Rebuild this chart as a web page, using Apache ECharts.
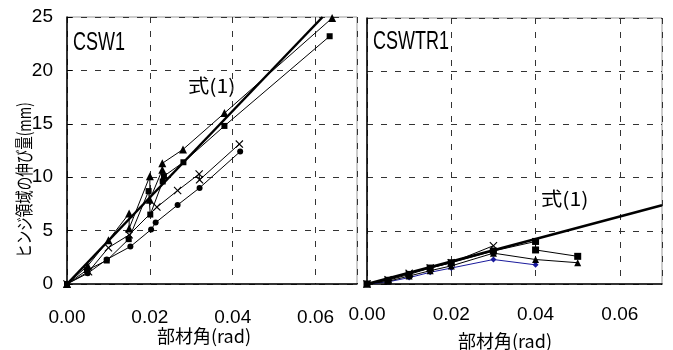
<!DOCTYPE html>
<html>
<head>
<meta charset="utf-8">
<script src="https://cdn.jsdelivr.net/npm/echarts@6/dist/echarts.min.js"></script>
<style>
  html, body { margin: 0; padding: 0; background: #fff; }
  #chart { width: 673px; height: 350px; }
</style>
</head>
<body>
<div id="chart"></div>
<script>
// CSW1 (left panel)
var cswTriX = [0, 0.005, 0.01, 0.015, 0.015, 0.02, 0.02, 0.023, 0.023, 0.028, 0.038, 0.064]
var cswTriY = [0, 1.7, 4.1, 6.6, 5.2, 10.1, 7.9, 10.7, 11.3, 12.6, 16.0, 24.9]
var cswSqX = [0, 0.0048, 0.0096, 0.0149, 0.0197, 0.0201, 0.0231, 0.0234, 0.0281, 0.038, 0.0634]
var cswSqY = [0, 1.3, 2.2, 4.2, 8.7, 6.5, 9.6, 10.1, 11.4, 14.8, 23.2]
var cswCrossX = [0, 0.0052, 0.01, 0.015, 0.0217, 0.0267, 0.0319, 0.032, 0.0416]
var cswCrossY = [0, 1.15, 3.4, 4.6, 7.2, 8.75, 10.3, 9.75, 13.1]
var cswDotX = [0, 0.005, 0.0096, 0.0153, 0.0203, 0.0214, 0.0267, 0.032, 0.0418]
var cswDotY = [0, 1.0, 2.3, 3.5, 5.1, 5.75, 7.4, 9.0, 12.4]
var cswEqX = [0, 0.0617]
var cswEqY = [0, 25]

// CSWTR1 (right panel)
var trSqX = [0, 0.005, 0.01, 0.015, 0.02, 0.03, 0.04, 0.04, 0.05]
var trSqY = [0, 0.35, 0.9, 1.5, 2.0, 3.1, 4.0, 3.2, 2.6]
var trTriX = [0, 0.005, 0.01, 0.015, 0.02, 0.03, 0.04, 0.05]
var trTriY = [0, 0.25, 0.75, 1.25, 1.7, 2.9, 2.3, 2.0]
var trCrossX = [0, 0.005, 0.01, 0.015, 0.02, 0.03]
var trCrossY = [0, 0.4, 1.0, 1.5, 2.0, 3.6]
var trBlueX = [0, 0.005, 0.01, 0.015, 0.02, 0.03, 0.04]
var trBlueY = [0, 0.2, 0.6, 1.1, 1.5, 2.3, 1.8]
var trEqX = [0, 0.07]
var trEqY = [0, 7.4]

var xTicks = [0, 0.02, 0.04, 0.06]

var numFont = '"Liberation Sans", Arial, sans-serif'
var jpFont = '"Noto Sans CJK JP", sans-serif'
var crossSymbol = 'path://M0,1 L1,0 L5,4 L9,0 L10,1 L6,5 L10,9 L9,10 L5,6 L1,10 L0,9 L4,5 Z'

function pts(xs, ys) {
    return xs.map(function (x, i) { return [x, ys[i]] })
}

function markerSeries(idx, xs, ys, symbol, size, color) {
    return {
        type: 'line',
        xAxisIndex: idx,
        yAxisIndex: idx,
        data: pts(xs, ys),
        symbol: symbol,
        symbolSize: size,
        showAllSymbol: true,
        lineStyle: { color: color, width: 1 },
        itemStyle: { color: color },
        animation: false,
        z: 3
    }
}

function eqSeries(idx, xs, ys) {
    return {
        type: 'line',
        xAxisIndex: idx,
        yAxisIndex: idx,
        data: pts(xs, ys),
        showSymbol: false,
        lineStyle: { color: '#000', width: 2.5 },
        animation: false,
        z: 4
    }
}

function xAxisCfg(idx, margin) {
    return {
        type: 'value',
        gridIndex: idx,
        min: 0,
        max: 0.07,
        interval: 0.02,
        axisLine: { show: true, onZero: false, lineStyle: { color: '#000', width: 1.5 } },
        axisTick: { show: false },
        axisLabel: {
            margin: margin,
            color: '#000',
            fontFamily: numFont,
            fontSize: 19,
            showMaxLabel: false,
            formatter: function (v) {
                return xTicks.some(function (t) { return Math.abs(t - v) < 1e-9 }) ? v.toFixed(2) : ''
            }
        },
        splitLine: { show: true, lineStyle: { color: '#333', width: 1, type: [6, 8] } }
    }
}

function yAxisCfg(idx, labels) {
    return {
        type: 'value',
        gridIndex: idx,
        min: 0,
        max: 25,
        interval: 5,
        axisLine: { show: true, onZero: false, lineStyle: { color: '#000', width: 1.5 } },
        axisTick: { show: labels, inside: true, length: 5, lineStyle: { color: '#000' } },
        axisLabel: {
            show: labels,
            margin: 14,
            color: '#000',
            fontFamily: numFont,
            fontSize: 19,
            padding: [5, 0, 0, 0]
        },
        splitLine: { show: true, lineStyle: { color: '#333', width: 1, type: [6, 8] } }
    }
}

var chart = echarts.init(document.getElementById('chart'), null, { renderer: 'canvas' })
chart.setOption({
    backgroundColor: '#fff',
    animation: false,
    grid: [
        { left: 67, top: 17, width: 290, height: 267, show: true, borderColor: '#999', borderWidth: 1 },
        { left: 367, top: 18, width: 295, height: 266, show: true, borderColor: '#999', borderWidth: 1 }
    ],
    xAxis: [xAxisCfg(0, 24), xAxisCfg(1, 21)],
    yAxis: [yAxisCfg(0, true), yAxisCfg(1, false)],
    series: [
        markerSeries(0, cswDotX, cswDotY, 'circle', 6, '#000'),
        markerSeries(0, cswCrossX, cswCrossY, crossSymbol, 8, '#000'),
        markerSeries(0, cswSqX, cswSqY, 'rect', 6, '#000'),
        markerSeries(0, cswTriX, cswTriY, 'triangle', 8, '#000'),
        eqSeries(0, cswEqX, cswEqY),
        markerSeries(1, trBlueX, trBlueY, 'diamond', 6, '#1a1a9c'),
        markerSeries(1, trCrossX, trCrossY, crossSymbol, 8, '#000'),
        markerSeries(1, trTriX, trTriY, 'triangle', 7, '#000'),
        markerSeries(1, trSqX, trSqY, 'rect', 7, '#000'),
        eqSeries(1, trEqX, trEqY)
    ],
    graphic: [
        { type: 'text', x: 73, y: 31, scaleX: 0.72, style: { text: 'CSW1', font: '25px ' + numFont, fill: '#000' } },
        { type: 'text', x: 373, y: 30, scaleX: 0.72, style: { text: 'CSWTR1', font: '25px ' + numFont, fill: '#000' } },
        { type: 'text', x: 188, y: 76, scaleX: 1.12, style: { text: '式(1)', font: '19px ' + jpFont, fill: '#000' } },
        { type: 'text', x: 541, y: 189, scaleX: 1.12, style: { text: '式(1)', font: '19px ' + jpFont, fill: '#000' } },
        { type: 'text', x: 157, y: 327, style: { text: '部材角(rad)', font: '18px ' + jpFont, fill: '#000' } },
        { type: 'text', x: 458, y: 332, style: { text: '部材角(rad)', font: '18px ' + jpFont, fill: '#000' } },
        {
            type: 'text', x: 24, y: 180, rotation: Math.PI / 2, scaleX: 0.75,
            style: { text: 'ヒンジ領域の伸び量(mm)', font: '18px ' + jpFont, fill: '#000', align: 'center', verticalAlign: 'middle' }
        }
    ]
})
</script>
</body>
</html>
